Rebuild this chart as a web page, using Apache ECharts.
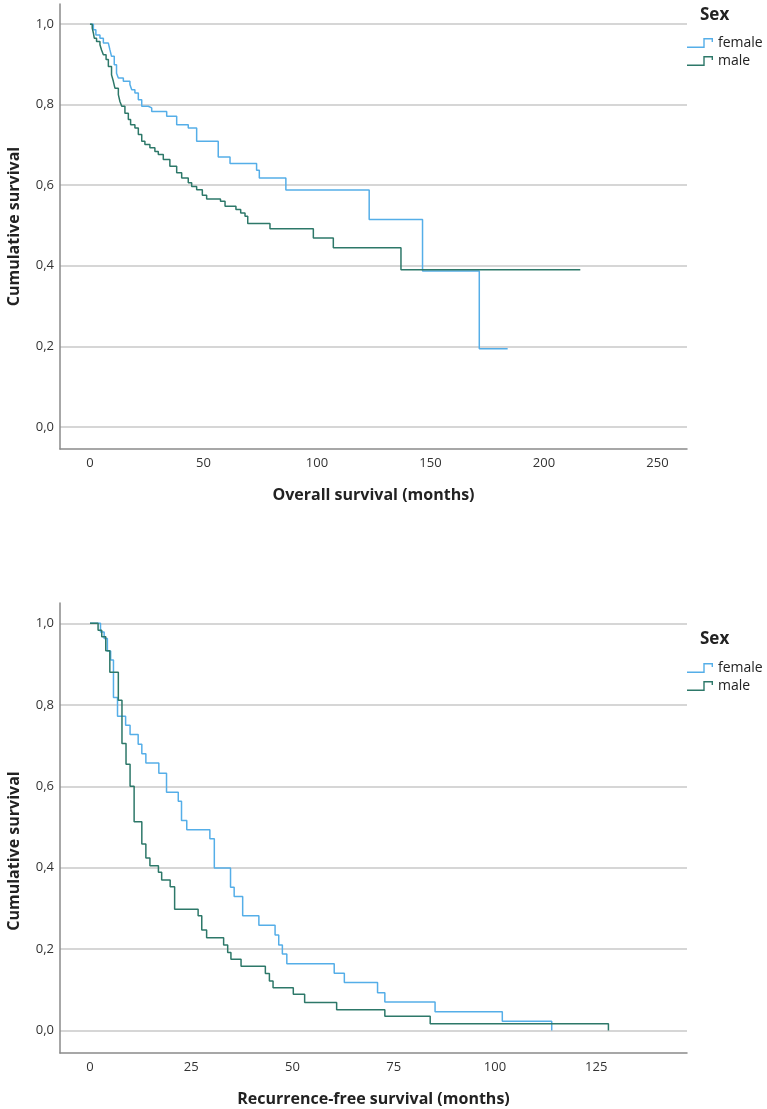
<!DOCTYPE html>
<html>
<head>
<meta charset="utf-8">
<script src="https://cdn.jsdelivr.net/npm/echarts@6/dist/echarts.min.js"></script>
<style>
  html, body { margin: 0; padding: 0; background: #fff; }
  #chart { width: 767px; height: 1109px; }
</style>
</head>
<body>
<div id="chart"></div>
<script>
// Kaplan-Meier steps, [months, cumulative survival]
var osFemale = [[0, 1], [1.5, 0.986], [2.6, 0.973], [4.4, 0.965], [5.9, 0.953], [8.1, 0.95], [8.8, 0.936],
  [9.5, 0.92], [10.7, 0.899], [11.7, 0.878], [12.5, 0.866], [14.7, 0.858], [17.6, 0.85], [18.4, 0.837],
  [19.8, 0.829], [21.3, 0.812], [22.8, 0.796], [25.7, 0.792], [27.2, 0.783], [33.8, 0.771], [38.2, 0.75],
  [43.3, 0.742], [47, 0.709], [56.5, 0.67], [61.7, 0.654], [73.4, 0.637], [74.6, 0.618], [86.3, 0.588],
  [123, 0.515], [146.5, 0.387], [171.5, 0.194], [184, 0.194]]
var osMale = [[0, 1], [1, 0.99], [1.5, 0.978], [1.9, 0.965], [2.9, 0.957], [4.4, 0.949], [5.1, 0.936],
  [5.9, 0.924], [7.1, 0.912], [8.1, 0.895], [9.5, 0.874], [10.3, 0.858], [11, 0.841], [12.5, 0.825],
  [13.2, 0.808], [14, 0.796], [15.4, 0.779], [16.9, 0.763], [17.9, 0.75], [19.8, 0.742], [21.3, 0.726],
  [22.8, 0.709], [24.2, 0.701], [26.4, 0.693], [28.6, 0.684], [30.1, 0.676], [32.3, 0.664], [35.2, 0.647],
  [38.2, 0.631], [40.4, 0.618], [43.3, 0.606], [44.8, 0.597], [47, 0.589], [49.5, 0.575], [51.4, 0.566],
  [57.5, 0.56], [59.5, 0.548], [64.3, 0.54], [66.4, 0.531], [68.3, 0.523], [69.5, 0.505], [79.3, 0.492],
  [98.4, 0.469], [107.2, 0.445], [137, 0.39], [216, 0.39]]
var rfsFemale = [[0, 1], [2.6, 0.979], [3.5, 0.963], [4.3, 0.932], [5.1, 0.91], [5.8, 0.818], [6.8, 0.772],
  [8.8, 0.75], [9.9, 0.727], [11.9, 0.703], [12.8, 0.68], [13.8, 0.657], [17, 0.632], [18.9, 0.585],
  [21.8, 0.563], [22.6, 0.516], [23.9, 0.493], [29.6, 0.471], [30.7, 0.399], [34.7, 0.352], [35.6, 0.329],
  [37.7, 0.282], [41.7, 0.259], [45.7, 0.235], [46.6, 0.21], [47.5, 0.188], [48.6, 0.164], [60.3, 0.141],
  [62.8, 0.118], [71, 0.093], [72.8, 0.07], [85.2, 0.046], [101.8, 0.023], [114, 0]]
var rfsMale = [[0, 1], [2, 0.983], [2.9, 0.967], [3.9, 0.933], [4.9, 0.88], [7, 0.811], [7.9, 0.705],
  [8.9, 0.654], [9.9, 0.6], [10.9, 0.513], [12.8, 0.458], [13.8, 0.424], [14.8, 0.405], [16.9, 0.389],
  [17.7, 0.37], [19.8, 0.353], [20.9, 0.298], [26.7, 0.282], [27.6, 0.247], [28.8, 0.228], [33, 0.21],
  [34, 0.192], [34.8, 0.175], [37.3, 0.158], [43.3, 0.14], [44.3, 0.122], [45.2, 0.105], [50.2, 0.089],
  [53, 0.069], [60.9, 0.051], [72.8, 0.035], [84, 0.017], [128, 0]]

var yTicks = [0, 0.2, 0.4, 0.6, 0.8, 1]
var osTicks = [0, 50, 100, 150, 200, 250]
var rfsTicks = [0, 25, 50, 75, 100, 125]
var groups = ['female', 'male']
var legendTitle = 'Sex'
var yName = 'Cumulative survival'
var osName = 'Overall survival (months)'
var rfsName = 'Recurrence-free survival (months)'

var colors = ['#55aee8', '#2d7869']
var font = 'Open Sans'
// step shaped legend mark
var stepIcon = 'path://M0,8.6 L16.3,8.6 L16.3,0 L26,0 L26,4 L24.6,4 L24.6,1.4 L17.7,1.4 L17.7,10 L0,10 Z'

function xAxis (idx, ticks, min, max, name, gap) {
  return {
    type: 'value',
    gridIndex: idx,
    min: min,
    max: max,
    axisLine: {show: true, onZero: false, lineStyle: {color: '#8a8a8a', width: 1.5}},
    axisTick: {show: false, customValues: ticks},
    axisLabel: {customValues: ticks, margin: 8, fontSize: 13, color: '#333', fontFamily: font},
    splitLine: {show: false},
    name: name,
    nameLocation: 'middle',
    nameGap: gap,
    nameTextStyle: {fontSize: 16, fontWeight: 'bold', color: '#222', fontFamily: font}
  }
}

function yAxis (idx, namePad) {
  return {
    type: 'value',
    gridIndex: idx,
    min: -0.055,
    max: 1.05,
    axisLine: {show: true, onZero: false, lineStyle: {color: '#8a8a8a', width: 1.5}},
    axisTick: {show: false, customValues: yTicks},
    axisLabel: {
      customValues: yTicks,
      margin: 6,
      fontSize: 13,
      color: '#333',
      fontFamily: font,
      formatter: function (v) { return v.toFixed(1).replace('.', ',') }
    },
    splitLine: {show: true, lineStyle: {color: '#c8c8c8', width: 1.5}},
    name: yName,
    nameLocation: 'middle',
    nameGap: 38,
    nameTextStyle: {fontSize: 16, fontWeight: 'bold', color: '#222', fontFamily: font, padding: namePad}
  }
}

function kmLine (name, data, idx, color) {
  return {
    name: name,
    type: 'line',
    xAxisIndex: idx,
    yAxisIndex: idx,
    data: data,
    step: 'end',
    symbol: 'none',
    showSymbol: false,
    silent: true,
    lineStyle: {color: color, width: 1.5},
    itemStyle: {color: color}
  }
}

function legend (top) {
  return {
    data: groups,
    orient: 'vertical',
    left: 687,
    top: top,
    padding: 0,
    itemGap: 4,
    itemWidth: 26,
    itemHeight: 10,
    icon: stepIcon,
    itemStyle: {borderWidth: 0},
    textStyle: {fontSize: 14, color: '#222', fontFamily: font}
  }
}

function sexTitle (top) {
  return {
    text: legendTitle,
    left: 700,
    top: top,
    padding: 0,
    textStyle: {fontSize: 17, fontWeight: 'bold', color: '#222', fontFamily: font}
  }
}

var chart = echarts.init(document.getElementById('chart'))
chart.setOption({
  animation: false,
  color: colors,
  title: [sexTitle(7), sexTitle(631)],
  legend: [legend(36), legend(661)],
  grid: [
    {left: 60, top: 4, width: 627, height: 445, outerBoundsMode: 'none'},
    {left: 60, top: 603, width: 627, height: 450, outerBoundsMode: 'none'}
  ],
  xAxis: [
    xAxis(0, osTicks, -13.2, 263, osName, 38),
    xAxis(1, rfsTicks, -7.4, 147.4, rfsName, 38)
  ],
  yAxis: [yAxis(0, [0, 0, 0, 0]), yAxis(1, [0, 46, 0, 0])],
  series: [
    kmLine(groups[0], osFemale, 0, colors[0]),
    kmLine(groups[1], osMale, 0, colors[1]),
    kmLine(groups[0], rfsFemale, 1, colors[0]),
    kmLine(groups[1], rfsMale, 1, colors[1])
  ]
})
</script>
</body>
</html>
